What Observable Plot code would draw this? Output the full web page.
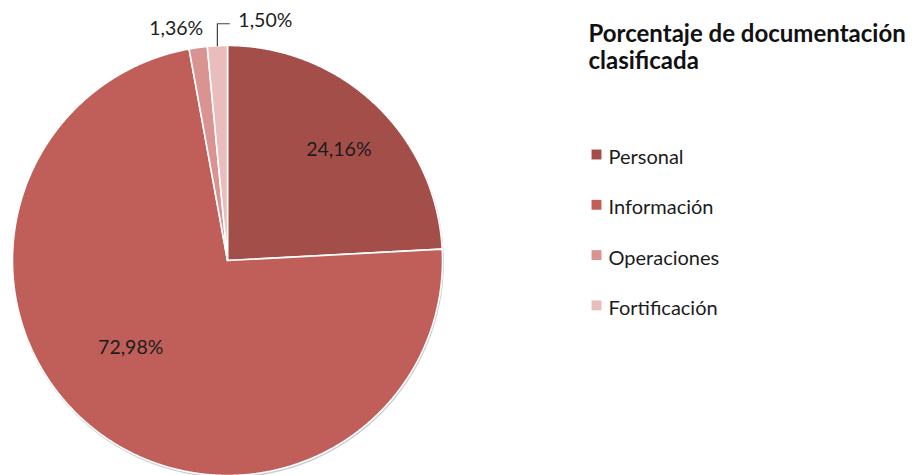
<!DOCTYPE html>
<html>
<head>
<meta charset="utf-8">
<script src="https://cdn.jsdelivr.net/npm/d3@7"></script>
<script src="https://cdn.jsdelivr.net/npm/@observablehq/plot@0.6"></script>
<style>
  html, body { margin: 0; padding: 0; background: #ffffff; }
  #chart svg { display: block; }
</style>
</head>
<body>
<div id="chart"></div>
<script>
// ---- data ----
const categories = ["Personal", "Información", "Operaciones", "Fortificación"];
const values = [24.16, 72.98, 1.36, 1.50];
const valueLabels = ["24,16%", "72,98%", "1,36%", "1,50%"];
const colors = ["#a44e4a", "#c05f5a", "#d99491", "#e8bdbc"];
const titleLines = ["Porcentaje de documentación", "clasificada"];

// ---- layout ----
const W = 924, H = 475;
const cx = 227, cy = 260, R = 215;
const font = "Lato, 'Open Sans', sans-serif";

const arcs = d3.pie().sort(null).value(d => d)(values);
const pt = (a, r) => ({x: cx + r * Math.sin(a), y: cy - r * Math.cos(a)});

// slice polygons
const slicePts = [];
arcs.forEach((a, i) => {
  const cat = categories[i];
  slicePts.push({cat, ...pt(0, 0)});
  const n = Math.max(2, Math.ceil((a.endAngle - a.startAngle) / 0.005));
  for (let k = 0; k <= n; k++) {
    const ang = a.startAngle + (a.endAngle - a.startAngle) * k / n;
    slicePts.push({cat, ...pt(ang, R)});
  }
  slicePts.push({cat, ...pt(0, 0)});
});

// labels
const labels = arcs.map((a, i) => {
  const mid = (a.startAngle + a.endAngle) / 2;
  if (values[i] > 5) {
    const shift = i === 1 ? 0.17 : 0.03;
    const rr = i === 1 ? 0.605 : 0.73;
    return {text: valueLabels[i], ...pt(mid + shift, R * rr), anchor: "middle"};
  }
  const e = pt(mid, R);
  if (i === 2) return {text: valueLabels[i], x: e.x + 5, y: e.y - 19, anchor: "end"};
  return {text: valueLabels[i], x: e.x + 21, y: e.y - 25, anchor: "start"};
});
// leader line for the last small slice
const lastMid = (arcs[3].startAngle + arcs[3].endAngle) / 2;
const le = pt(lastMid, R);
const leader = [
  {x: le.x, y: le.y},
  {x: le.x, y: le.y - 22},
  {x: le.x + 12, y: le.y - 22}
];

// legend
const legX = 596, legY0 = 154, legStep = 50.3;
const legend = categories.map((c, i) => ({cat: c, x: legX, y: legY0 + i * legStep}));

const textOpts = {x: "x", y: "y", text: "text", fontSize: 19.5, fill: "#1c1c1c"};

const plot = Plot.plot({
  width: W,
  height: H,
  margin: 0,
  x: {domain: [0, W], range: [0, W], axis: null},
  y: {domain: [0, H], range: [0, H], axis: null},
  color: {domain: categories, range: colors},
  style: {fontFamily: font, background: "transparent"},
  marks: [
    Plot.dot([0], {x: () => cx + 0.6, y: () => cy + 1.4, r: R + 0.8, fill: "#c9ced3", stroke: null}),
    Plot.line(slicePts, {x: "x", y: "y", z: "cat", fill: "cat", stroke: "white", strokeWidth: 1.6, strokeLinejoin: "round", curve: "linear"}),
    Plot.line(leader, {x: "x", y: "y", stroke: "#404040", strokeWidth: 1.2}),
    Plot.text(labels.filter(d => d.anchor === "middle"), {...textOpts, textAnchor: "middle"}),
    Plot.text(labels.filter(d => d.anchor === "end"), {...textOpts, textAnchor: "end"}),
    Plot.text(labels.filter(d => d.anchor === "start"), {...textOpts, textAnchor: "start"}),
    Plot.dot(legend, {x: "x", y: "y", symbol: "square", r: 5.6, fill: "cat", stroke: null}),
    Plot.text(legend, {x: d => d.x + 12, y: d => d.y + 3, text: "cat", textAnchor: "start", fontSize: 20, fill: "#1c1c1c"}),
    Plot.text(titleLines, {x: () => 588, y: (d, i) => 34 + i * 27, text: d => d, textAnchor: "start", fontSize: 24, fontWeight: "bold", fill: "#111"})
  ]
});

document.getElementById("chart").appendChild(plot);
</script>
</body>
</html>
